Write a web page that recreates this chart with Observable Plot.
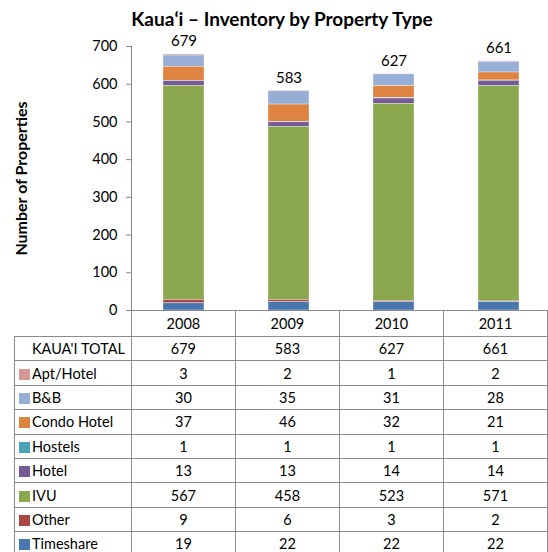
<!DOCTYPE html>
<html><head><meta charset="utf-8">
<script src="https://cdn.jsdelivr.net/npm/d3@7"></script>
<script src="https://cdn.jsdelivr.net/npm/@observablehq/plot@0.6"></script>
<style>
body{margin:0;width:548px;height:552px;overflow:hidden;background:#fff;font-family:Lato,sans-serif;color:#000;position:relative}
#title{height:30px;line-height:37px;text-align:center;font-weight:bold;font-size:19px;padding-left:16px;box-sizing:border-box;white-space:nowrap}
#chart svg{display:block}
#tbl{position:absolute;left:14px;top:310px;border-collapse:collapse;table-layout:fixed;font-size:14.5px}
#tbl td{border:1px solid #8c8c8c;padding:0;text-align:center;white-space:nowrap;overflow:hidden}
#tbl tr.hdr td{height:25px}
#tbl tr.row td{height:23.4px}
#tbl td.lab{text-align:left;padding-left:4px}
.sw{display:inline-block;width:11px;height:11px;margin-right:2px;vertical-align:-1px}
</style></head>
<body>
<div id="title">Kauaʻi – Inventory by Property Type</div>
<div id="chart"></div>
<script>
const years = ["2008", "2009", "2010", "2011"];
const totals = [679, 583, 627, 661];
const types = ["Apt/Hotel", "B&B", "Condo Hotel", "Hostels", "Hotel", "IVU", "Other", "Timeshare"];
const aptHotel = [3, 2, 1, 2];
const bnb = [30, 35, 31, 28];
const condoHotel = [37, 46, 32, 21];
const hostels = [1, 1, 1, 1];
const hotel = [13, 13, 14, 14];
const ivu = [567, 458, 523, 571];
const other = [9, 6, 3, 2];
const timeshare = [19, 22, 22, 22];
const colors = ["#D69795", "#97AED6", "#DE8440", "#4BA3B8", "#765A96", "#8BA84E", "#AA4643", "#4A77AE"];
const yTicks = [0, 100, 200, 300, 400, 500, 600, 700];
const totalLabel = "KAUA'I TOTAL";
const yLabel = "Number of Properties";

const series = [aptHotel, bnb, condoHotel, hostels, hotel, ivu, other, timeshare];
const rows = [];
types.forEach((t, k) => years.forEach((y, i) => rows.push({year: y, type: t, value: series[k][i]})));
const totalRows = years.map((y, i) => ({year: y, total: totals[i]}));
const stackOrder = types.slice().reverse();

const chart = Plot.plot({
  width: 548,
  height: 290,
  marginTop: 16,
  marginBottom: 10,
  marginLeft: 131,
  marginRight: -3,
  style: {fontFamily: "Lato, sans-serif", fontSize: "14.5px", color: "#000", background: "transparent"},
  x: {domain: years, paddingInner: 0.61, paddingOuter: 0.305, axis: null},
  y: {domain: [0, 700]},
  color: {domain: types, range: colors},
  marks: [
    Plot.barY(rows, {x: "year", y: "value", fill: "type", order: stackOrder, stroke: "#fff", strokeWidth: 0.6, strokeOpacity: 0.55}),
    Plot.text(totalRows, {x: "year", y: "total", text: d => String(d.total), lineAnchor: "bottom", dy: -8, fontSize: 15, fill: "#000"}),
    Plot.axisY(yTicks, {tickSize: 5, tickPadding: 9, stroke: "#868686", color: "#000", fontSize: 14.5, label: null}),
    Plot.frame({anchor: "left", stroke: "#868686"}),
    Plot.text([yLabel], {frameAnchor: "left", dx: -110, rotate: -90, textAnchor: "middle", fontWeight: "bold", fontSize: 16, fill: "#000"})
  ]
});
document.getElementById("chart").appendChild(chart);

// data table
const tbl = document.createElement("table");
tbl.id = "tbl";
const cg = document.createElement("colgroup");
[117, 105, 105, 105, 105].forEach(w => { const c = document.createElement("col"); c.style.width = w + "px"; cg.appendChild(c); });
tbl.appendChild(cg);
const hdr = document.createElement("tr");
hdr.className = "hdr";
const h0 = document.createElement("td");
h0.style.border = "none";
h0.style.borderRight = "1px solid #8c8c8c";
hdr.appendChild(h0);
years.forEach(y => { const td = document.createElement("td"); td.textContent = y; hdr.appendChild(td); });
tbl.appendChild(hdr);
function addRow(label, vals, color) {
  const tr = document.createElement("tr");
  tr.className = "row";
  const l = document.createElement("td");
  l.className = "lab";
  const sw = document.createElement("span");
  sw.className = "sw";
  sw.style.background = color || "transparent";
  l.appendChild(sw);
  l.appendChild(document.createTextNode(label));
  tr.appendChild(l);
  vals.forEach(v => { const td = document.createElement("td"); td.textContent = v; tr.appendChild(td); });
  tbl.appendChild(tr);
}
addRow(totalLabel, totals, null);
types.forEach((t, k) => addRow(t, series[k], colors[k]));
document.body.appendChild(tbl);
</script>
</body></html>
